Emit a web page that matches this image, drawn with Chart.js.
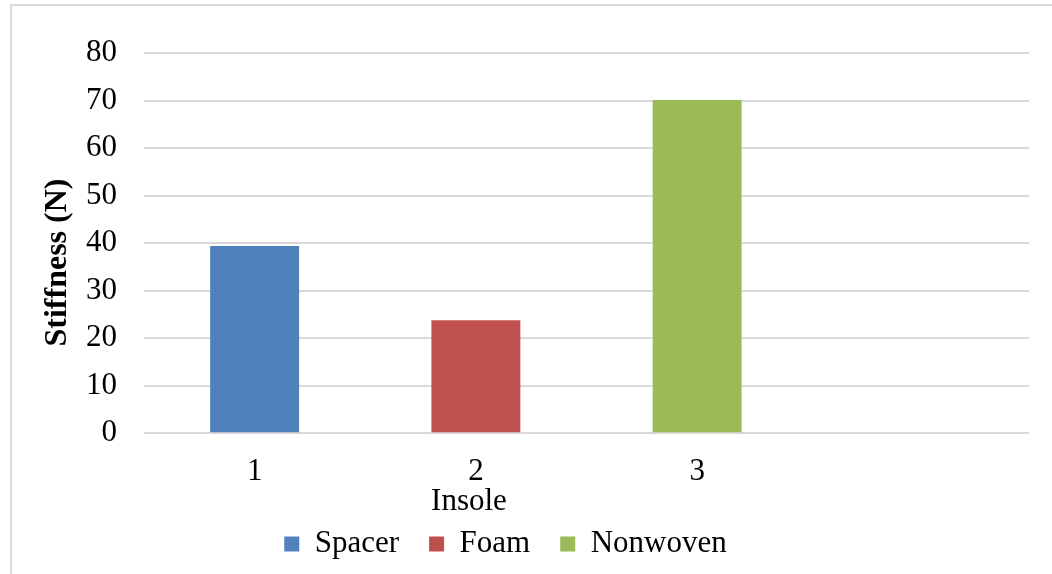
<!DOCTYPE html>
<html>
<head>
<meta charset="utf-8">
<script src="https://cdn.jsdelivr.net/npm/chart.js@4/dist/chart.umd.min.js"></script>
<style>
  html, body { margin: 0; padding: 0; background: #fff; }
  #frame { position: relative; width: 1052px; height: 574px; overflow: hidden; }
  #edge {
    position: absolute; left: 10px; top: 4px; width: 1100px; height: 620px;
    border-left: 2px solid #d9d9d9; border-top: 2px solid #d9d9d9;
  }
  #chart { position: absolute; left: 0; top: 0; }
</style>
</head>
<body>
<div id="frame">
  <div id="edge"></div>
  <canvas id="chart" width="1052" height="574"></canvas>
</div>
<script>
// Insole categories (the last slot is left empty)
const categories = ['1', '2', '3', ''];

// Stiffness values (N), one series per insole type
const spacerValues   = [39.4, null, null, null];
const foamValues     = [null, 23.8, null, null];
const nonwovenValues = [null, null, 70.1, null];

// Value-axis ticks
const yTickValues = [0, 10, 20, 30, 40, 50, 60, 70, 80];

const seriesNames  = ['Spacer', 'Foam', 'Nonwoven'];
const seriesColors = ['#4f81bd', '#c0504d', '#9bbb59'];

const xAxisTitle = 'Insole';
const yAxisTitle = 'Stiffness (N)';

const SERIF = '"Liberation Serif", "Times New Roman", serif';
Chart.defaults.font.family = SERIF;
Chart.defaults.color = '#000';

// Axis captions placed relative to the plot area
const axisCaptions = {
  id: 'axisCaptions',
  afterDraw(chart) {
    const { ctx, chartArea } = chart;
    ctx.save();
    ctx.fillStyle = '#000';
    ctx.textAlign = 'center';
    ctx.textBaseline = 'alphabetic';
    ctx.font = '31px ' + SERIF;
    ctx.fillText(xAxisTitle, chartArea.left + 325, chartArea.bottom + 77);
    ctx.translate(chartArea.left - 78, chartArea.top + 209.5);
    ctx.rotate(-Math.PI / 2);
    ctx.font = 'bold 32px ' + SERIF;
    ctx.fillText(yAxisTitle, 0, 0);
    ctx.restore();
  }
};

const valueSets = [spacerValues, foamValues, nonwovenValues];

new Chart(document.getElementById('chart'), {
  type: 'bar',
  data: {
    labels: categories,
    datasets: valueSets.map((vals, i) => ({
      label: seriesNames[i],
      data: vals,
      backgroundColor: seriesColors[i],
      borderWidth: 0,
      grouped: false,
      categoryPercentage: 1,
      barPercentage: 0.402
    }))
  },
  options: {
    responsive: false,
    animation: false,
    devicePixelRatio: 1,
    layout: { padding: { top: 53, right: 23, bottom: 4.5, left: -18 } },
    scales: {
      x: {
        grid: { display: false, drawTicks: false },
        border: { display: false },
        ticks: { font: { size: 31 }, color: '#000', padding: 20, maxRotation: 0 },
        afterFit(scale) { scale.height = 65.2; }
      },
      y: {
        min: 0,
        max: 80,
        afterBuildTicks(scale) { scale.ticks = yTickValues.map(v => ({ value: v })); },
        grid: { color: '#d9d9d9', lineWidth: 2, drawTicks: false },
        border: { display: false },
        ticks: { font: { size: 31 }, color: '#000', padding: 27 },
        afterFit(scale) { scale.width = 162; }
      }
    },
    plugins: {
      tooltip: { enabled: false },
      legend: {
        position: 'bottom',
        labels: {
          font: { size: 31 },
          color: '#000',
          boxWidth: 15,
          boxHeight: 15,
          padding: 30
        }
      }
    }
  },
  plugins: [axisCaptions]
});
</script>
</body>
</html>
